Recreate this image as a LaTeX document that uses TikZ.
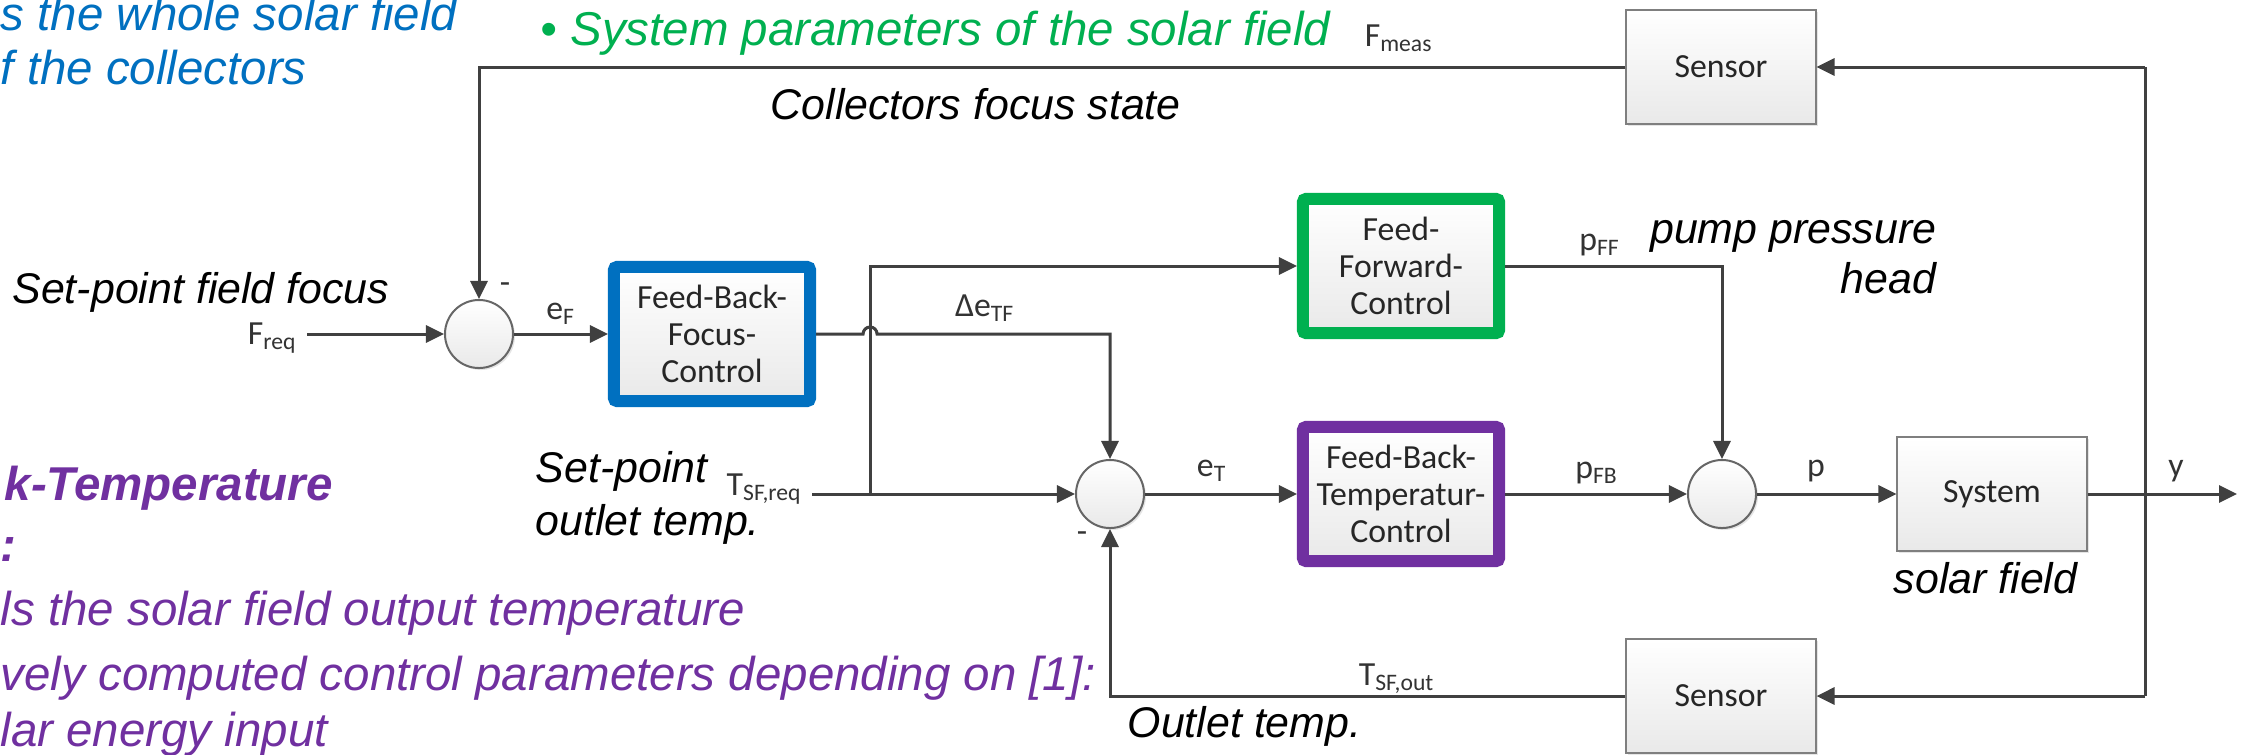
\documentclass[tikz,border=0pt]{standalone}
\usepackage{fontspec}
\setmainfont{Liberation Sans}
\newfontfamily\calibri{Carlito}
\usepackage{xcolor}
\usetikzlibrary{arrows.meta,shadows,positioning}
\definecolor{wirec}{HTML}{404040}
\definecolor{edgec}{HTML}{7F7F7F}
\definecolor{boxfill}{HTML}{E9E9E9}
\definecolor{ctlblue}{HTML}{0070C0}
\definecolor{ctlgreen}{HTML}{00B050}
\definecolor{ctlpurple}{HTML}{7030A0}
\tikzset{
  wire/.style={draw=wirec, line width=0.03cm},
  sig/.style={wire, -{Triangle[length=0.18cm,width=0.17cm]}},
  blk/.style={draw=edgec, line width=0.02cm, top color=white, bottom color=boxfill,
    minimum width=1.89cm, minimum height=1.13cm, inner sep=0pt,
    font=\calibri\fontsize{9.6}{10.5}\selectfont, text=black!85,
    drop shadow={shadow xshift=0.02cm, shadow yshift=-0.02cm, opacity=0.2}},
  ctl/.style={line width=0.12cm, rounded corners=0.03cm, top color=white, bottom color=boxfill,
    minimum width=1.96cm, minimum height=1.34cm, inner sep=0pt, align=center,
    font=\calibri\fontsize{9.6}{10.6}\selectfont, text=black!85},
  sumc/.style={circle, draw=edgec!80!black, line width=0.02cm, top color=white, bottom color=boxfill,
    minimum size=0.68cm, inner sep=0pt,
    drop shadow={shadow xshift=0.02cm, shadow yshift=-0.02cm, opacity=0.2}},
  lab/.style={font=\calibri\fontsize{9.6}{10.5}\selectfont, text=black!80, inner sep=0pt},
  note/.style={font=\itshape\fontsize{12.2}{14.5}\selectfont, inner sep=0pt},
  cnote/.style={font=\itshape\fontsize{13.5}{16}\selectfont, inner sep=0pt},
}
\begin{document}
\begin{tikzpicture}[x=0.01cm, y=-0.01cm]
\fill[white] (0,0) rectangle (2242,754);
\useasboundingbox (0,0) rectangle (2242,754);

% side notes
\node[cnote, text=ctlblue, anchor=base west] (nblue1) at (0,30) {s the whole solar field};
\node[cnote, text=ctlblue, anchor=base west] (nblue2) at (0,84) {f the collectors};
\node[cnote, text=ctlgreen, anchor=base west] (ngreen) at (540,45) {• System parameters of the solar field};
\node[cnote, text=ctlpurple, font=\bfseries\itshape\fontsize{13.5}{16}\selectfont, anchor=base west] (npurp1) at (4,500) {k-Temperature};
\node[cnote, text=ctlpurple, font=\bfseries\itshape\fontsize{13.5}{16}\selectfont, anchor=base west] (npurp2) at (0,561) {:};
\node[cnote, text=ctlpurple, anchor=base west] (npurp3) at (0,625) {ls the solar field output temperature};
\node[cnote, text=ctlpurple, anchor=base west] (npurp4) at (0,690) {vely computed control parameters depending on [1]:};
\node[cnote, text=ctlpurple, anchor=base west] (npurp5) at (0,746) {lar energy input};

% blocks
\node[sumc] (sumF) at (479,334) {};
\node[sumc] (sumT) at (1110,494) {};
\node[sumc] (sumP) at (1722,494) {};
\node[ctl, draw=ctlblue] (fbf) at (712,334) {Feed-Back-\\Focus-\\Control};
\node[ctl, draw=ctlgreen] (ffc) at (1401,266) {Feed-\\Forward-\\Control};
\node[ctl, draw=ctlpurple] (fbt) at (1401,494) {Feed-Back-\\Temperatur-\\Control};
\node[blk] (sys) at (1992,494) {System};
\node[blk] (sensF) at (1721,67) {Sensor};
\node[blk] (sensT) at (1721,696) {Sensor};

\coordinate (freq) at (307,334);
\coordinate (treq) at (812,494);
\coordinate (brFF) at (870,494);
\coordinate (yout) at (2237,494);
\coordinate (ytop) at (2145,67);
\coordinate (ybot) at (2145,696);

% connectors
\draw[sig] (freq) -- (sumF);
\draw[sig] (sumF) -- (fbf);
\draw[sig] (fbf.east) -- ++(47,0) arc[start angle=180, end angle=0, radius=0.07cm]
  -- (sumT |- fbf.east) -- (sumT);
\draw[sig] (treq) -- (sumT);
\draw[sig] (brFF) -- (brFF |- ffc.west) -- (ffc.west);
\draw[sig] (sumT) -- (fbt);
\draw[sig] (ffc.east) -- (sumP |- ffc.east) -- (sumP);
\draw[sig] (fbt) -- (sumP);
\draw[sig] (sumP) -- (sys);
\draw[sig] (sys) -- (yout);
\draw[wire] (ytop) -- (ybot);
\draw[sig] (ytop) -- (sensF);
\draw[sig] (ybot) -- (sensT);
\draw[sig] (sensF) -- (sumF |- sensF) -- (sumF);
\draw[sig] (sensT) -- (sumT |- sensT) -- (sumT);

% signal labels
\node[lab, anchor=east] (lfreq) at (298,338) {F\textsubscript{req}};
\node[lab, anchor=east] (ltreq) at (803,489) {T\textsubscript{SF,req}};
\node[lab] (leF) at (561,314) {e\textsubscript{F}};
\node[lab] (ldeTF) at (985,308) {Δe\textsubscript{TF}};
\node[lab] (leT) at (1212,471) {e\textsubscript{T}};
\node[lab] (lpFF) at (1600,245) {p\textsubscript{FF}};
\node[lab] (lpFB) at (1597,473) {p\textsubscript{FB}};
\node[lab] (lp) at (1816,471) {p};
\node[lab] (ly) at (2176,471) {y};
\node[lab] (lFmeas) at (1399,38) {F\textsubscript{meas}};
\node[lab] (lTout) at (1397,679) {T\textsubscript{SF,out}};
\node[lab] (minF) at (505,288) {-};
\node[lab] (minT) at (1082,537) {-};

% annotations
\node[note, anchor=base east] (nfocus) at (390,303) {Set-point field focus};
\node[note, anchor=base west] (ncoll) at (770,119) {Collectors focus state};
\node[note, anchor=base west] (nset1) at (535,482) {Set-point};
\node[note, anchor=base west] (nset2) at (535,535) {outlet temp.};
\node[note, anchor=base east] (npump1) at (1937,243) {pump pressure};
\node[note, anchor=base east] (npump2) at (1937,293) {head};
\node[note, anchor=base west] (nsolar) at (1893,593) {solar field};
\node[note, anchor=base west] (nout) at (1127,737) {Outlet temp.};
\end{tikzpicture}
\end{document}
